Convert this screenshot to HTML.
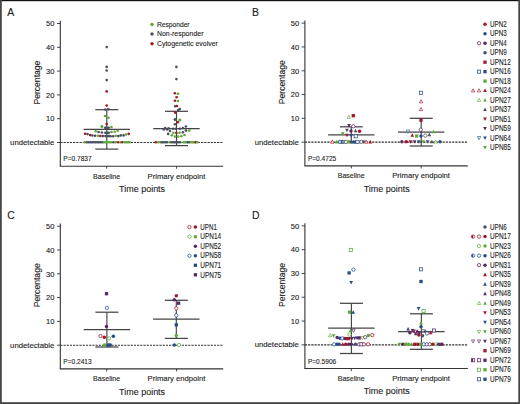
<!DOCTYPE html>
<html><head><meta charset="utf-8"><style>
html,body{margin:0;padding:0;background:#fff;}
body{width:520px;height:404px;overflow:hidden;font-family:"Liberation Sans",sans-serif;}
svg{display:block;}
text{font-family:"Liberation Sans",sans-serif;stroke:#1c1c1c;stroke-width:0.12px;}
</style></head><body>
<svg width="520" height="404" viewBox="0 0 520 404">
<g font-family="Liberation Sans, sans-serif" fill="#1c1c1c">
<text x="7.30" y="16.40" font-size="10.4" text-anchor="start">A</text>
<line x1="60.30" y1="20.80" x2="60.30" y2="166.20" stroke="#333" stroke-width="1.1"/>
<line x1="57.00" y1="23.50" x2="60.30" y2="23.50" stroke="#333" stroke-width="0.9"/>
<text x="54.50" y="26.25" font-size="7.8" text-anchor="end" textLength="8.40" lengthAdjust="spacingAndGlyphs">50</text>
<line x1="57.00" y1="47.30" x2="60.30" y2="47.30" stroke="#333" stroke-width="0.9"/>
<text x="54.50" y="50.05" font-size="7.8" text-anchor="end" textLength="8.40" lengthAdjust="spacingAndGlyphs">40</text>
<line x1="57.00" y1="71.10" x2="60.30" y2="71.10" stroke="#333" stroke-width="0.9"/>
<text x="54.50" y="73.85" font-size="7.8" text-anchor="end" textLength="8.40" lengthAdjust="spacingAndGlyphs">30</text>
<line x1="57.00" y1="94.90" x2="60.30" y2="94.90" stroke="#333" stroke-width="0.9"/>
<text x="54.50" y="97.65" font-size="7.8" text-anchor="end" textLength="8.40" lengthAdjust="spacingAndGlyphs">20</text>
<line x1="57.00" y1="118.70" x2="60.30" y2="118.70" stroke="#333" stroke-width="0.9"/>
<text x="54.50" y="121.45" font-size="7.8" text-anchor="end" textLength="8.40" lengthAdjust="spacingAndGlyphs">10</text>
<line x1="57.00" y1="142.50" x2="60.30" y2="142.50" stroke="#333" stroke-width="0.9"/>
<text x="54.30" y="145.10" font-size="8.0" text-anchor="end" textLength="44.20" lengthAdjust="spacingAndGlyphs">undetectable</text>
<line x1="60.30" y1="142.50" x2="223.50" y2="142.50" stroke="#333" stroke-width="1.15" stroke-dasharray="2.2,1"/>
<line x1="59.80" y1="166.20" x2="223.20" y2="166.20" stroke="#333" stroke-width="1.1"/>
<line x1="106.70" y1="166.20" x2="106.70" y2="168.80" stroke="#333" stroke-width="0.9"/>
<line x1="176.60" y1="166.20" x2="176.60" y2="168.80" stroke="#333" stroke-width="0.9"/>
<text x="106.60" y="178.70" font-size="7.9" text-anchor="middle" textLength="27.00" lengthAdjust="spacingAndGlyphs">Baseline</text>
<text x="176.50" y="178.70" font-size="7.9" text-anchor="middle" textLength="57.80" lengthAdjust="spacingAndGlyphs">Primary endpoint</text>
<text x="142.10" y="192.10" font-size="9.7" text-anchor="middle" textLength="46.00" lengthAdjust="spacingAndGlyphs">Time points</text>
<text x="0" y="0" font-size="9.4" text-anchor="middle" textLength="44" lengthAdjust="spacingAndGlyphs" transform="translate(40.30,82.60) rotate(-90)">Percentage</text>
<text x="63.30" y="161.30" font-size="7.6" text-anchor="start" textLength="28.30" lengthAdjust="spacingAndGlyphs">P=0.7837</text>
<text x="251.90" y="16.05" font-size="10.4" text-anchor="start">B</text>
<line x1="304.90" y1="20.45" x2="304.90" y2="165.85" stroke="#333" stroke-width="1.1"/>
<line x1="301.60" y1="23.15" x2="304.90" y2="23.15" stroke="#333" stroke-width="0.9"/>
<text x="299.10" y="25.90" font-size="7.8" text-anchor="end" textLength="8.40" lengthAdjust="spacingAndGlyphs">50</text>
<line x1="301.60" y1="46.95" x2="304.90" y2="46.95" stroke="#333" stroke-width="0.9"/>
<text x="299.10" y="49.70" font-size="7.8" text-anchor="end" textLength="8.40" lengthAdjust="spacingAndGlyphs">40</text>
<line x1="301.60" y1="70.75" x2="304.90" y2="70.75" stroke="#333" stroke-width="0.9"/>
<text x="299.10" y="73.50" font-size="7.8" text-anchor="end" textLength="8.40" lengthAdjust="spacingAndGlyphs">30</text>
<line x1="301.60" y1="94.55" x2="304.90" y2="94.55" stroke="#333" stroke-width="0.9"/>
<text x="299.10" y="97.30" font-size="7.8" text-anchor="end" textLength="8.40" lengthAdjust="spacingAndGlyphs">20</text>
<line x1="301.60" y1="118.35" x2="304.90" y2="118.35" stroke="#333" stroke-width="0.9"/>
<text x="299.10" y="121.10" font-size="7.8" text-anchor="end" textLength="8.40" lengthAdjust="spacingAndGlyphs">10</text>
<line x1="301.60" y1="142.15" x2="304.90" y2="142.15" stroke="#333" stroke-width="0.9"/>
<text x="298.90" y="144.75" font-size="8.0" text-anchor="end" textLength="44.20" lengthAdjust="spacingAndGlyphs">undetectable</text>
<line x1="304.90" y1="142.15" x2="468.10" y2="142.15" stroke="#333" stroke-width="1.15" stroke-dasharray="2.2,1"/>
<line x1="304.40" y1="165.85" x2="467.80" y2="165.85" stroke="#333" stroke-width="1.1"/>
<line x1="351.30" y1="165.85" x2="351.30" y2="168.45" stroke="#333" stroke-width="0.9"/>
<line x1="421.20" y1="165.85" x2="421.20" y2="168.45" stroke="#333" stroke-width="0.9"/>
<text x="351.20" y="178.35" font-size="7.9" text-anchor="middle" textLength="27.00" lengthAdjust="spacingAndGlyphs">Baseline</text>
<text x="421.10" y="178.35" font-size="7.9" text-anchor="middle" textLength="57.80" lengthAdjust="spacingAndGlyphs">Primary endpoint</text>
<text x="386.70" y="191.75" font-size="9.7" text-anchor="middle" textLength="46.00" lengthAdjust="spacingAndGlyphs">Time points</text>
<text x="0" y="0" font-size="9.4" text-anchor="middle" textLength="44" lengthAdjust="spacingAndGlyphs" transform="translate(284.90,82.25) rotate(-90)">Percentage</text>
<text x="307.90" y="160.95" font-size="7.6" text-anchor="start" textLength="28.30" lengthAdjust="spacingAndGlyphs">P=0.4725</text>
<text x="7.30" y="219.10" font-size="10.4" text-anchor="start">C</text>
<line x1="60.30" y1="223.50" x2="60.30" y2="368.90" stroke="#333" stroke-width="1.1"/>
<line x1="57.00" y1="226.20" x2="60.30" y2="226.20" stroke="#333" stroke-width="0.9"/>
<text x="54.50" y="228.95" font-size="7.8" text-anchor="end" textLength="8.40" lengthAdjust="spacingAndGlyphs">50</text>
<line x1="57.00" y1="250.00" x2="60.30" y2="250.00" stroke="#333" stroke-width="0.9"/>
<text x="54.50" y="252.75" font-size="7.8" text-anchor="end" textLength="8.40" lengthAdjust="spacingAndGlyphs">40</text>
<line x1="57.00" y1="273.80" x2="60.30" y2="273.80" stroke="#333" stroke-width="0.9"/>
<text x="54.50" y="276.55" font-size="7.8" text-anchor="end" textLength="8.40" lengthAdjust="spacingAndGlyphs">30</text>
<line x1="57.00" y1="297.60" x2="60.30" y2="297.60" stroke="#333" stroke-width="0.9"/>
<text x="54.50" y="300.35" font-size="7.8" text-anchor="end" textLength="8.40" lengthAdjust="spacingAndGlyphs">20</text>
<line x1="57.00" y1="321.40" x2="60.30" y2="321.40" stroke="#333" stroke-width="0.9"/>
<text x="54.50" y="324.15" font-size="7.8" text-anchor="end" textLength="8.40" lengthAdjust="spacingAndGlyphs">10</text>
<line x1="57.00" y1="345.20" x2="60.30" y2="345.20" stroke="#333" stroke-width="0.9"/>
<text x="54.30" y="347.80" font-size="8.0" text-anchor="end" textLength="44.20" lengthAdjust="spacingAndGlyphs">undetectable</text>
<line x1="60.30" y1="345.20" x2="223.50" y2="345.20" stroke="#333" stroke-width="1.15" stroke-dasharray="2.2,1"/>
<line x1="59.80" y1="368.90" x2="223.20" y2="368.90" stroke="#333" stroke-width="1.1"/>
<line x1="106.70" y1="368.90" x2="106.70" y2="371.50" stroke="#333" stroke-width="0.9"/>
<line x1="176.60" y1="368.90" x2="176.60" y2="371.50" stroke="#333" stroke-width="0.9"/>
<text x="106.60" y="381.40" font-size="7.9" text-anchor="middle" textLength="27.00" lengthAdjust="spacingAndGlyphs">Baseline</text>
<text x="176.50" y="381.40" font-size="7.9" text-anchor="middle" textLength="57.80" lengthAdjust="spacingAndGlyphs">Primary endpoint</text>
<text x="142.10" y="394.80" font-size="9.7" text-anchor="middle" textLength="46.00" lengthAdjust="spacingAndGlyphs">Time points</text>
<text x="0" y="0" font-size="9.4" text-anchor="middle" textLength="44" lengthAdjust="spacingAndGlyphs" transform="translate(40.30,285.30) rotate(-90)">Percentage</text>
<text x="63.30" y="364.00" font-size="7.6" text-anchor="start" textLength="28.30" lengthAdjust="spacingAndGlyphs">P=0.2413</text>
<text x="251.90" y="218.75" font-size="10.4" text-anchor="start">D</text>
<line x1="304.90" y1="223.15" x2="304.90" y2="368.55" stroke="#333" stroke-width="1.1"/>
<line x1="301.60" y1="225.85" x2="304.90" y2="225.85" stroke="#333" stroke-width="0.9"/>
<text x="299.10" y="228.60" font-size="7.8" text-anchor="end" textLength="8.40" lengthAdjust="spacingAndGlyphs">50</text>
<line x1="301.60" y1="249.65" x2="304.90" y2="249.65" stroke="#333" stroke-width="0.9"/>
<text x="299.10" y="252.40" font-size="7.8" text-anchor="end" textLength="8.40" lengthAdjust="spacingAndGlyphs">40</text>
<line x1="301.60" y1="273.45" x2="304.90" y2="273.45" stroke="#333" stroke-width="0.9"/>
<text x="299.10" y="276.20" font-size="7.8" text-anchor="end" textLength="8.40" lengthAdjust="spacingAndGlyphs">30</text>
<line x1="301.60" y1="297.25" x2="304.90" y2="297.25" stroke="#333" stroke-width="0.9"/>
<text x="299.10" y="300.00" font-size="7.8" text-anchor="end" textLength="8.40" lengthAdjust="spacingAndGlyphs">20</text>
<line x1="301.60" y1="321.05" x2="304.90" y2="321.05" stroke="#333" stroke-width="0.9"/>
<text x="299.10" y="323.80" font-size="7.8" text-anchor="end" textLength="8.40" lengthAdjust="spacingAndGlyphs">10</text>
<line x1="301.60" y1="344.85" x2="304.90" y2="344.85" stroke="#333" stroke-width="0.9"/>
<text x="298.90" y="347.45" font-size="8.0" text-anchor="end" textLength="44.20" lengthAdjust="spacingAndGlyphs">undetectable</text>
<line x1="304.90" y1="344.85" x2="468.10" y2="344.85" stroke="#333" stroke-width="1.15" stroke-dasharray="2.2,1"/>
<line x1="304.40" y1="368.55" x2="467.80" y2="368.55" stroke="#333" stroke-width="1.1"/>
<line x1="351.30" y1="368.55" x2="351.30" y2="371.15" stroke="#333" stroke-width="0.9"/>
<line x1="421.20" y1="368.55" x2="421.20" y2="371.15" stroke="#333" stroke-width="0.9"/>
<text x="351.20" y="381.05" font-size="7.9" text-anchor="middle" textLength="27.00" lengthAdjust="spacingAndGlyphs">Baseline</text>
<text x="421.10" y="381.05" font-size="7.9" text-anchor="middle" textLength="57.80" lengthAdjust="spacingAndGlyphs">Primary endpoint</text>
<text x="386.70" y="394.45" font-size="9.7" text-anchor="middle" textLength="46.00" lengthAdjust="spacingAndGlyphs">Time points</text>
<text x="0" y="0" font-size="9.4" text-anchor="middle" textLength="44" lengthAdjust="spacingAndGlyphs" transform="translate(284.90,284.95) rotate(-90)">Percentage</text>
<text x="307.90" y="363.65" font-size="7.6" text-anchor="start" textLength="28.30" lengthAdjust="spacingAndGlyphs">P=0.5906</text>
</g>
<line x1="106.80" y1="109.70" x2="106.80" y2="149.10" stroke="#444" stroke-width="1.15"/>
<line x1="83.60" y1="129.40" x2="130.00" y2="129.40" stroke="#444" stroke-width="1.25"/>
<line x1="95.30" y1="109.70" x2="118.30" y2="109.70" stroke="#444" stroke-width="1.25"/>
<line x1="95.30" y1="149.10" x2="118.30" y2="149.10" stroke="#444" stroke-width="1.25"/>
<line x1="176.50" y1="111.30" x2="176.50" y2="145.60" stroke="#444" stroke-width="1.15"/>
<line x1="153.30" y1="128.70" x2="199.70" y2="128.70" stroke="#444" stroke-width="1.25"/>
<line x1="165.00" y1="111.30" x2="188.00" y2="111.30" stroke="#444" stroke-width="1.25"/>
<line x1="165.00" y1="145.60" x2="188.00" y2="145.60" stroke="#444" stroke-width="1.25"/>
<circle cx="106.70" cy="47.10" r="1.32" fill="#4a5062"/>
<circle cx="106.70" cy="66.90" r="1.32" fill="#4a5062"/>
<circle cx="106.70" cy="70.50" r="1.32" fill="#4a5062"/>
<circle cx="106.70" cy="80.10" r="1.32" fill="#4a5062"/>
<circle cx="106.70" cy="91.40" r="1.32" fill="#a3152b"/>
<circle cx="106.70" cy="105.60" r="1.32" fill="#a3152b"/>
<circle cx="105.20" cy="109.50" r="1.32" fill="#4a5062"/>
<circle cx="108.30" cy="109.10" r="1.32" fill="#4a5062"/>
<circle cx="105.00" cy="116.00" r="1.32" fill="#5fa83a"/>
<circle cx="108.50" cy="117.70" r="1.32" fill="#5fa83a"/>
<circle cx="106.70" cy="124.10" r="1.32" fill="#a3152b"/>
<circle cx="102.00" cy="126.40" r="1.32" fill="#5fa83a"/>
<circle cx="111.50" cy="127.10" r="1.32" fill="#5fa83a"/>
<circle cx="105.20" cy="127.80" r="1.32" fill="#4a5062"/>
<circle cx="107.00" cy="127.80" r="1.32" fill="#4a5062"/>
<circle cx="108.70" cy="127.80" r="1.32" fill="#4a5062"/>
<circle cx="101.90" cy="126.70" r="1.32" fill="#5fa83a"/>
<circle cx="95.70" cy="131.30" r="1.32" fill="#5fa83a"/>
<circle cx="98.60" cy="132.00" r="1.32" fill="#4a5062"/>
<circle cx="101.90" cy="132.50" r="1.32" fill="#4a5062"/>
<circle cx="105.40" cy="132.80" r="1.32" fill="#4a5062"/>
<circle cx="107.10" cy="132.80" r="1.32" fill="#4a5062"/>
<circle cx="108.80" cy="132.80" r="1.32" fill="#4a5062"/>
<circle cx="111.50" cy="132.00" r="1.32" fill="#5fa83a"/>
<circle cx="114.70" cy="131.80" r="1.32" fill="#5fa83a"/>
<circle cx="117.80" cy="130.80" r="1.32" fill="#5fa83a"/>
<circle cx="85.10" cy="133.70" r="1.32" fill="#a3152b"/>
<circle cx="87.50" cy="134.10" r="1.32" fill="#4a5062"/>
<circle cx="90.10" cy="135.10" r="1.32" fill="#a3152b"/>
<circle cx="92.40" cy="135.50" r="1.32" fill="#4a5062"/>
<circle cx="95.10" cy="135.80" r="1.32" fill="#4a5062"/>
<circle cx="97.90" cy="135.80" r="1.32" fill="#5fa83a"/>
<circle cx="100.30" cy="136.00" r="1.32" fill="#a3152b"/>
<circle cx="102.80" cy="136.10" r="1.32" fill="#4a5062"/>
<circle cx="105.40" cy="136.10" r="1.32" fill="#4a5062"/>
<circle cx="107.10" cy="136.10" r="1.32" fill="#4a5062"/>
<circle cx="108.80" cy="136.10" r="1.32" fill="#4a5062"/>
<circle cx="110.60" cy="136.30" r="1.32" fill="#4a5062"/>
<circle cx="113.20" cy="136.30" r="1.32" fill="#4a5062"/>
<circle cx="115.80" cy="135.80" r="1.32" fill="#5fa83a"/>
<circle cx="118.30" cy="136.10" r="1.32" fill="#4a5062"/>
<circle cx="120.70" cy="135.40" r="1.32" fill="#4a5062"/>
<circle cx="123.60" cy="135.40" r="1.32" fill="#4a5062"/>
<circle cx="125.90" cy="134.50" r="1.32" fill="#5fa83a"/>
<circle cx="128.70" cy="133.90" r="1.32" fill="#a3152b"/>
<circle cx="84.60" cy="142.20" r="1.32" fill="#5fa83a"/>
<circle cx="86.80" cy="142.20" r="1.32" fill="#4a5062"/>
<circle cx="88.55" cy="142.20" r="1.32" fill="#4a5062"/>
<circle cx="90.30" cy="142.20" r="1.32" fill="#4a5062"/>
<circle cx="92.05" cy="142.20" r="1.32" fill="#4a5062"/>
<circle cx="93.80" cy="142.20" r="1.32" fill="#4a5062"/>
<circle cx="95.55" cy="142.20" r="1.32" fill="#4a5062"/>
<circle cx="97.30" cy="142.20" r="1.32" fill="#4a5062"/>
<circle cx="99.05" cy="142.20" r="1.32" fill="#4a5062"/>
<circle cx="100.80" cy="142.20" r="1.32" fill="#4a5062"/>
<circle cx="102.55" cy="142.20" r="1.32" fill="#4a5062"/>
<circle cx="104.20" cy="142.20" r="1.32" fill="#5fa83a"/>
<circle cx="105.95" cy="142.20" r="1.32" fill="#5fa83a"/>
<circle cx="107.70" cy="142.20" r="1.32" fill="#5fa83a"/>
<circle cx="109.45" cy="142.20" r="1.32" fill="#5fa83a"/>
<circle cx="111.20" cy="142.20" r="1.32" fill="#5fa83a"/>
<circle cx="113.50" cy="142.20" r="1.32" fill="#4a5062"/>
<circle cx="115.80" cy="142.20" r="1.32" fill="#5fa83a"/>
<circle cx="118.10" cy="142.20" r="1.32" fill="#a3152b"/>
<circle cx="120.40" cy="142.20" r="1.32" fill="#5fa83a"/>
<circle cx="122.30" cy="142.20" r="1.32" fill="#a3152b"/>
<circle cx="124.80" cy="142.20" r="1.32" fill="#5fa83a"/>
<circle cx="126.40" cy="142.20" r="1.32" fill="#5fa83a"/>
<circle cx="128.00" cy="142.20" r="1.32" fill="#5fa83a"/>
<circle cx="129.60" cy="142.20" r="1.32" fill="#5fa83a"/>
<circle cx="176.40" cy="66.90" r="1.32" fill="#4a5062"/>
<circle cx="176.40" cy="79.10" r="1.32" fill="#4a5062"/>
<circle cx="174.90" cy="93.20" r="1.32" fill="#a3152b"/>
<circle cx="178.00" cy="93.70" r="1.32" fill="#5fa83a"/>
<circle cx="176.60" cy="97.30" r="1.32" fill="#a3152b"/>
<circle cx="174.90" cy="100.80" r="1.32" fill="#a3152b"/>
<circle cx="178.00" cy="101.00" r="1.32" fill="#5fa83a"/>
<circle cx="175.20" cy="106.20" r="1.32" fill="#4a5062"/>
<circle cx="176.90" cy="106.00" r="1.32" fill="#a3152b"/>
<circle cx="178.20" cy="110.10" r="1.32" fill="#4a5062"/>
<circle cx="179.80" cy="109.10" r="1.32" fill="#4a5062"/>
<circle cx="175.20" cy="112.60" r="1.32" fill="#a3152b"/>
<circle cx="175.20" cy="119.50" r="1.32" fill="#4a5062"/>
<circle cx="179.80" cy="119.70" r="1.32" fill="#5fa83a"/>
<circle cx="177.90" cy="122.30" r="1.32" fill="#a3152b"/>
<circle cx="174.90" cy="124.30" r="1.32" fill="#4a5062"/>
<circle cx="174.90" cy="119.60" r="1.32" fill="#4a5062"/>
<circle cx="179.80" cy="120.30" r="1.32" fill="#5fa83a"/>
<circle cx="163.70" cy="129.50" r="1.32" fill="#4a5062"/>
<circle cx="165.20" cy="128.00" r="1.32" fill="#4a5062"/>
<circle cx="167.10" cy="129.50" r="1.32" fill="#4a5062"/>
<circle cx="168.60" cy="128.40" r="1.32" fill="#4a5062"/>
<circle cx="170.00" cy="131.00" r="1.32" fill="#4a5062"/>
<circle cx="173.00" cy="128.70" r="1.32" fill="#4a5062"/>
<circle cx="175.60" cy="128.70" r="1.32" fill="#4a5062"/>
<circle cx="179.80" cy="128.70" r="1.32" fill="#4a5062"/>
<circle cx="182.90" cy="128.00" r="1.32" fill="#4a5062"/>
<circle cx="185.90" cy="126.50" r="1.32" fill="#4a5062"/>
<circle cx="185.90" cy="130.60" r="1.32" fill="#4a5062"/>
<circle cx="189.20" cy="130.40" r="1.32" fill="#5fa83a"/>
<circle cx="168.20" cy="133.90" r="1.32" fill="#4a5062"/>
<circle cx="173.40" cy="132.70" r="1.32" fill="#5fa83a"/>
<circle cx="176.40" cy="133.00" r="1.32" fill="#a3152b"/>
<circle cx="179.60" cy="132.80" r="1.32" fill="#5fa83a"/>
<circle cx="182.90" cy="132.20" r="1.32" fill="#4a5062"/>
<circle cx="171.90" cy="135.20" r="1.32" fill="#5fa83a"/>
<circle cx="174.90" cy="136.50" r="1.32" fill="#5fa83a"/>
<circle cx="178.10" cy="136.50" r="1.32" fill="#5fa83a"/>
<circle cx="181.30" cy="136.20" r="1.32" fill="#5fa83a"/>
<circle cx="184.50" cy="135.00" r="1.32" fill="#5fa83a"/>
<circle cx="155.80" cy="142.20" r="1.32" fill="#a3152b"/>
<circle cx="158.20" cy="142.20" r="1.32" fill="#5fa83a"/>
<circle cx="160.40" cy="142.20" r="1.32" fill="#5fa83a"/>
<circle cx="161.90" cy="142.20" r="1.32" fill="#4a5062"/>
<circle cx="163.65" cy="142.20" r="1.32" fill="#4a5062"/>
<circle cx="165.40" cy="142.20" r="1.32" fill="#4a5062"/>
<circle cx="167.15" cy="142.20" r="1.32" fill="#4a5062"/>
<circle cx="169.70" cy="142.20" r="1.32" fill="#5fa83a"/>
<circle cx="171.50" cy="142.20" r="1.32" fill="#4a5062"/>
<circle cx="173.25" cy="142.20" r="1.32" fill="#4a5062"/>
<circle cx="175.00" cy="142.20" r="1.32" fill="#4a5062"/>
<circle cx="176.75" cy="142.20" r="1.32" fill="#4a5062"/>
<circle cx="178.50" cy="142.20" r="1.32" fill="#4a5062"/>
<circle cx="180.25" cy="142.20" r="1.32" fill="#4a5062"/>
<circle cx="183.70" cy="142.20" r="1.32" fill="#5fa83a"/>
<circle cx="185.20" cy="142.20" r="1.32" fill="#5fa83a"/>
<circle cx="186.60" cy="142.20" r="1.32" fill="#5fa83a"/>
<circle cx="187.90" cy="142.20" r="1.32" fill="#4a5062"/>
<circle cx="189.60" cy="142.20" r="1.32" fill="#4a5062"/>
<circle cx="191.40" cy="142.20" r="1.32" fill="#5fa83a"/>
<circle cx="193.00" cy="142.20" r="1.32" fill="#5fa83a"/>
<circle cx="194.30" cy="142.20" r="1.32" fill="#5fa83a"/>
<circle cx="195.70" cy="142.20" r="1.32" fill="#a3152b"/>
<circle cx="197.60" cy="142.20" r="1.32" fill="#5fa83a"/>
<circle cx="152.00" cy="24.40" r="1.75" fill="#5fa83a"/>
<circle cx="152.00" cy="34.10" r="1.75" fill="#4a5062"/>
<circle cx="152.00" cy="43.80" r="1.75" fill="#a3152b"/>
<g font-family="Liberation Sans, sans-serif" fill="#1c1c1c">
<text x="156.90" y="26.70" font-size="8.0" text-anchor="start" textLength="32.70" lengthAdjust="spacingAndGlyphs">Responder</text>
<text x="156.90" y="36.40" font-size="8.0" text-anchor="start" textLength="46.60" lengthAdjust="spacingAndGlyphs">Non-responder</text>
<text x="156.90" y="46.10" font-size="8.0" text-anchor="start" textLength="61.00" lengthAdjust="spacingAndGlyphs">Cytogenetic evolver</text>
</g>
<line x1="351.30" y1="126.80" x2="351.30" y2="142.00" stroke="#444" stroke-width="1.15"/>
<line x1="328.10" y1="134.80" x2="374.50" y2="134.80" stroke="#444" stroke-width="1.25"/>
<line x1="339.80" y1="126.80" x2="362.80" y2="126.80" stroke="#444" stroke-width="1.25"/>
<line x1="339.80" y1="142.00" x2="362.80" y2="142.00" stroke="#444" stroke-width="1.25"/>
<line x1="421.20" y1="118.30" x2="421.20" y2="146.00" stroke="#444" stroke-width="1.15"/>
<line x1="398.00" y1="132.10" x2="444.40" y2="132.10" stroke="#444" stroke-width="1.25"/>
<line x1="409.70" y1="118.30" x2="432.70" y2="118.30" stroke="#444" stroke-width="1.25"/>
<line x1="409.70" y1="146.00" x2="432.70" y2="146.00" stroke="#444" stroke-width="1.25"/>
<polygon points="348.80,115.26 347.13,118.44 350.47,118.44" fill="#fff" stroke="#5fa83a" stroke-width="0.66" stroke-linejoin="round"/>
<rect x="351.65" y="114.05" width="3.30" height="3.30" fill="#a3152b"/>
<polygon points="349.00,127.63 347.15,124.12 350.85,124.12" fill="#5b2a5e"/>
<circle cx="353.30" cy="126.30" r="1.67" fill="#fff" stroke="#5b2a5e" stroke-width="0.75"/>
<polygon points="347.00,132.34 345.15,128.82 348.85,128.82" fill="#4a5062"/>
<circle cx="351.00" cy="131.00" r="1.75" fill="#5b2a5e"/>
<polygon points="355.50,128.77 353.65,132.28 357.35,132.28" fill="#4a5062"/>
<circle cx="359.50" cy="131.30" r="1.75" fill="#a3152b"/>
<polygon points="342.70,135.73 340.85,132.22 344.55,132.22" fill="#5fa83a"/>
<polygon points="347.00,137.23 345.15,133.72 348.85,133.72" fill="#a3152b"/>
<polygon points="351.10,137.63 349.25,134.12 352.95,134.12" fill="#2a4b85"/>
<rect x="354.12" y="134.73" width="3.15" height="3.15" fill="#fff" stroke="#2a4b85" stroke-width="0.75"/>
<polygon points="332.30,140.06 330.63,143.24 333.97,143.24" fill="#fff" stroke="#a3152b" stroke-width="0.66" stroke-linejoin="round"/>
<polygon points="336.70,139.87 334.85,143.38 338.55,143.38" fill="#5fa83a"/>
<rect x="338.82" y="140.33" width="3.15" height="3.15" fill="#fff" stroke="#2a4b85" stroke-width="0.75"/>
<circle cx="342.60" cy="141.90" r="1.67" fill="#fff" stroke="#2a4b85" stroke-width="0.75"/>
<path d="M342.60,140.22 A1.67,1.67 0 0 0 342.60,143.58Z" fill="#2a4b85"/>
<polygon points="344.70,140.06 343.03,143.24 346.37,143.24" fill="#fff" stroke="#4a5062" stroke-width="0.66" stroke-linejoin="round"/>
<circle cx="346.00" cy="141.90" r="1.67" fill="#fff" stroke="#4a5062" stroke-width="0.75"/>
<rect x="347.15" y="140.25" width="3.30" height="3.30" fill="#5fa83a"/>
<circle cx="351.40" cy="141.90" r="1.75" fill="#4a5062"/>
<polygon points="353.50,139.87 351.65,143.38 355.35,143.38" fill="#2a4b85"/>
<circle cx="355.30" cy="141.90" r="1.75" fill="#2a4b85"/>
<rect x="355.93" y="140.33" width="3.15" height="3.15" fill="#fff" stroke="#2a4b85" stroke-width="0.75"/>
<circle cx="361.30" cy="141.90" r="1.67" fill="#fff" stroke="#4a5062" stroke-width="0.75"/>
<polygon points="363.60,143.94 361.75,140.42 365.45,140.42" fill="#4a5062"/>
<polygon points="366.20,140.06 364.53,143.24 367.87,143.24" fill="#fff" stroke="#a3152b" stroke-width="0.66" stroke-linejoin="round"/>
<polygon points="370.20,139.87 368.35,143.38 372.05,143.38" fill="#a3152b"/>
<rect x="419.43" y="91.22" width="3.15" height="3.15" fill="#fff" stroke="#2a4b85" stroke-width="0.75"/>
<polygon points="421.00,99.66 419.33,102.84 422.67,102.84" fill="#fff" stroke="#a3152b" stroke-width="0.66" stroke-linejoin="round"/>
<polygon points="421.00,107.46 419.33,110.64 422.67,110.64" fill="#fff" stroke="#a3152b" stroke-width="0.66" stroke-linejoin="round"/>
<rect x="419.35" y="118.55" width="3.30" height="3.30" fill="#a3152b"/>
<circle cx="420.80" cy="129.70" r="1.67" fill="#fff" stroke="#5b2a5e" stroke-width="0.75"/>
<polygon points="408.00,133.24 406.33,130.06 409.67,130.06" fill="#fff" stroke="#2a4b85" stroke-width="0.66" stroke-linejoin="round"/>
<polygon points="433.50,129.77 431.65,133.28 435.35,133.28" fill="#5fa83a"/>
<polygon points="412.30,133.27 410.45,136.78 414.15,136.78" fill="#a3152b"/>
<rect x="415.05" y="134.35" width="3.30" height="3.30" fill="#5fa83a"/>
<circle cx="421.00" cy="136.00" r="1.75" fill="#2a4b85"/>
<circle cx="425.30" cy="135.60" r="1.67" fill="#fff" stroke="#4a5062" stroke-width="0.75"/>
<polygon points="429.30,132.66 427.45,136.18 431.15,136.18" fill="#4a5062"/>
<circle cx="401.90" cy="141.80" r="1.75" fill="#5b2a5e"/>
<circle cx="406.30" cy="141.80" r="1.75" fill="#a3152b"/>
<polygon points="410.60,143.84 408.75,140.32 412.45,140.32" fill="#a3152b"/>
<polygon points="414.60,143.84 412.75,140.32 416.45,140.32" fill="#5b2a5e"/>
<polygon points="418.90,143.84 417.05,140.32 420.75,140.32" fill="#2a4b85"/>
<polygon points="423.20,143.84 421.35,140.32 425.05,140.32" fill="#5fa83a"/>
<polygon points="427.60,143.84 425.75,140.32 429.45,140.32" fill="#4a5062"/>
<polygon points="431.90,139.77 430.05,143.28 433.75,143.28" fill="#4a5062"/>
<polygon points="435.70,139.96 434.03,143.14 437.37,143.14" fill="#fff" stroke="#5fa83a" stroke-width="0.66" stroke-linejoin="round"/>
<circle cx="440.00" cy="141.80" r="1.75" fill="#2a4b85"/>
<circle cx="485.00" cy="24.30" r="1.75" fill="#a3152b"/>
<text x="490.00" y="27.00" font-family="Liberation Sans, sans-serif" fill="#1c1c1c" font-size="8.2" textLength="16.60" lengthAdjust="spacingAndGlyphs">UPN2</text>
<circle cx="485.00" cy="33.77" r="1.75" fill="#2a4b85"/>
<text x="490.00" y="36.47" font-family="Liberation Sans, sans-serif" fill="#1c1c1c" font-size="8.2" textLength="16.60" lengthAdjust="spacingAndGlyphs">UPN3</text>
<circle cx="479.05" cy="43.24" r="1.67" fill="#fff" stroke="#5b2a5e" stroke-width="0.75"/>
<circle cx="485.00" cy="43.24" r="1.75" fill="#5b2a5e"/>
<text x="490.00" y="45.94" font-family="Liberation Sans, sans-serif" fill="#1c1c1c" font-size="8.2" textLength="16.60" lengthAdjust="spacingAndGlyphs">UPN4</text>
<circle cx="485.00" cy="52.71" r="1.75" fill="#4a5062"/>
<text x="490.00" y="55.41" font-family="Liberation Sans, sans-serif" fill="#1c1c1c" font-size="8.2" textLength="16.60" lengthAdjust="spacingAndGlyphs">UPN9</text>
<rect x="483.35" y="60.53" width="3.30" height="3.30" fill="#a3152b"/>
<text x="490.00" y="64.88" font-family="Liberation Sans, sans-serif" fill="#1c1c1c" font-size="8.2" textLength="20.75" lengthAdjust="spacingAndGlyphs">UPN12</text>
<rect x="477.48" y="70.08" width="3.15" height="3.15" fill="#fff" stroke="#2a4b85" stroke-width="0.75"/>
<rect x="483.35" y="70.00" width="3.30" height="3.30" fill="#2a4b85"/>
<text x="490.00" y="74.35" font-family="Liberation Sans, sans-serif" fill="#1c1c1c" font-size="8.2" textLength="20.75" lengthAdjust="spacingAndGlyphs">UPN16</text>
<rect x="483.35" y="79.47" width="3.30" height="3.30" fill="#5fa83a"/>
<text x="490.00" y="83.82" font-family="Liberation Sans, sans-serif" fill="#1c1c1c" font-size="8.2" textLength="20.75" lengthAdjust="spacingAndGlyphs">UPN18</text>
<polygon points="473.10,88.75 471.43,91.93 474.77,91.93" fill="#fff" stroke="#a3152b" stroke-width="0.66" stroke-linejoin="round"/>
<polygon points="479.05,88.75 477.38,91.93 480.72,91.93" fill="#fff" stroke="#a3152b" stroke-width="0.66" stroke-linejoin="round"/>
<polygon points="485.00,88.56 483.15,92.07 486.85,92.07" fill="#a3152b"/>
<text x="490.00" y="93.29" font-family="Liberation Sans, sans-serif" fill="#1c1c1c" font-size="8.2" textLength="20.75" lengthAdjust="spacingAndGlyphs">UPN24</text>
<polygon points="479.05,98.22 477.38,101.40 480.72,101.40" fill="#fff" stroke="#5fa83a" stroke-width="0.66" stroke-linejoin="round"/>
<polygon points="485.00,98.03 483.15,101.54 486.85,101.54" fill="#5fa83a"/>
<text x="490.00" y="102.76" font-family="Liberation Sans, sans-serif" fill="#1c1c1c" font-size="8.2" textLength="20.75" lengthAdjust="spacingAndGlyphs">UPN27</text>
<polygon points="485.00,107.50 483.15,111.01 486.85,111.01" fill="#4a5062"/>
<text x="490.00" y="112.23" font-family="Liberation Sans, sans-serif" fill="#1c1c1c" font-size="8.2" textLength="20.75" lengthAdjust="spacingAndGlyphs">UPN37</text>
<polygon points="485.00,121.03 483.15,117.52 486.85,117.52" fill="#a3152b"/>
<text x="490.00" y="121.70" font-family="Liberation Sans, sans-serif" fill="#1c1c1c" font-size="8.2" textLength="20.75" lengthAdjust="spacingAndGlyphs">UPN51</text>
<polygon points="485.00,130.50 483.15,126.99 486.85,126.99" fill="#5b2a5e"/>
<text x="490.00" y="131.17" font-family="Liberation Sans, sans-serif" fill="#1c1c1c" font-size="8.2" textLength="20.75" lengthAdjust="spacingAndGlyphs">UPN59</text>
<polygon points="479.05,139.78 477.38,136.60 480.72,136.60" fill="#fff" stroke="#2a4b85" stroke-width="0.66" stroke-linejoin="round"/>
<polygon points="485.00,139.98 483.15,136.46 486.85,136.46" fill="#2a4b85"/>
<text x="490.00" y="140.64" font-family="Liberation Sans, sans-serif" fill="#1c1c1c" font-size="8.2" textLength="20.75" lengthAdjust="spacingAndGlyphs">UPN64</text>
<polygon points="485.00,149.45 483.15,145.93 486.85,145.93" fill="#5fa83a"/>
<text x="490.00" y="150.11" font-family="Liberation Sans, sans-serif" fill="#1c1c1c" font-size="8.2" textLength="20.75" lengthAdjust="spacingAndGlyphs">UPN85</text>
<line x1="106.90" y1="312.20" x2="106.90" y2="347.00" stroke="#444" stroke-width="1.15"/>
<line x1="83.70" y1="329.70" x2="130.10" y2="329.70" stroke="#444" stroke-width="1.25"/>
<line x1="95.40" y1="312.20" x2="118.40" y2="312.20" stroke="#444" stroke-width="1.25"/>
<line x1="95.40" y1="347.00" x2="118.40" y2="347.00" stroke="#444" stroke-width="1.25"/>
<line x1="176.30" y1="300.30" x2="176.30" y2="338.40" stroke="#444" stroke-width="1.15"/>
<line x1="153.10" y1="319.10" x2="199.50" y2="319.10" stroke="#444" stroke-width="1.25"/>
<line x1="164.80" y1="300.30" x2="187.80" y2="300.30" stroke="#444" stroke-width="1.25"/>
<line x1="164.80" y1="338.40" x2="187.80" y2="338.40" stroke="#444" stroke-width="1.25"/>
<rect x="104.85" y="292.05" width="3.30" height="3.30" fill="#5b2a5e"/>
<circle cx="106.90" cy="307.90" r="1.67" fill="#fff" stroke="#2a4b85" stroke-width="0.75"/>
<circle cx="106.50" cy="326.60" r="1.75" fill="#5b2a5e"/>
<circle cx="100.50" cy="336.00" r="1.67" fill="#fff" stroke="#a3152b" stroke-width="0.75"/>
<circle cx="104.30" cy="337.30" r="1.75" fill="#a3152b"/>
<circle cx="109.10" cy="338.40" r="1.67" fill="#fff" stroke="#5fa83a" stroke-width="0.75"/>
<circle cx="113.30" cy="336.30" r="1.75" fill="#2a4b85"/>
<circle cx="104.60" cy="345.00" r="1.75" fill="#5fa83a"/>
<rect x="106.95" y="343.35" width="3.30" height="3.30" fill="#2a4b85"/>
<circle cx="110.30" cy="345.00" r="1.75" fill="#2a4b85"/>
<circle cx="176.30" cy="295.70" r="1.75" fill="#a3152b"/>
<circle cx="174.30" cy="299.70" r="1.75" fill="#5b2a5e"/>
<rect x="176.95" y="301.55" width="3.30" height="3.30" fill="#5b2a5e"/>
<circle cx="176.30" cy="308.40" r="1.67" fill="#fff" stroke="#a3152b" stroke-width="0.75"/>
<circle cx="176.30" cy="315.30" r="1.67" fill="#fff" stroke="#2a4b85" stroke-width="0.75"/>
<rect x="174.65" y="323.25" width="3.30" height="3.30" fill="#2a4b85"/>
<circle cx="176.30" cy="335.60" r="1.75" fill="#5fa83a"/>
<circle cx="174.30" cy="345.00" r="1.75" fill="#2a4b85"/>
<circle cx="178.90" cy="345.00" r="1.67" fill="#fff" stroke="#5fa83a" stroke-width="0.75"/>
<circle cx="189.45" cy="227.10" r="1.67" fill="#fff" stroke="#a3152b" stroke-width="0.75"/>
<circle cx="195.40" cy="227.10" r="1.75" fill="#a3152b"/>
<text x="200.30" y="229.80" font-family="Liberation Sans, sans-serif" fill="#1c1c1c" font-size="8.2" textLength="16.60" lengthAdjust="spacingAndGlyphs">UPN1</text>
<circle cx="189.45" cy="236.64" r="1.67" fill="#fff" stroke="#5fa83a" stroke-width="0.75"/>
<circle cx="195.40" cy="236.64" r="1.75" fill="#5fa83a"/>
<text x="200.30" y="239.34" font-family="Liberation Sans, sans-serif" fill="#1c1c1c" font-size="8.2" textLength="20.75" lengthAdjust="spacingAndGlyphs">UPN14</text>
<circle cx="195.40" cy="246.18" r="1.75" fill="#5b2a5e"/>
<text x="200.30" y="248.88" font-family="Liberation Sans, sans-serif" fill="#1c1c1c" font-size="8.2" textLength="20.75" lengthAdjust="spacingAndGlyphs">UPN52</text>
<circle cx="189.45" cy="255.72" r="1.67" fill="#fff" stroke="#2a4b85" stroke-width="0.75"/>
<circle cx="195.40" cy="255.72" r="1.75" fill="#2a4b85"/>
<text x="200.30" y="258.42" font-family="Liberation Sans, sans-serif" fill="#1c1c1c" font-size="8.2" textLength="20.75" lengthAdjust="spacingAndGlyphs">UPN58</text>
<rect x="193.75" y="263.61" width="3.30" height="3.30" fill="#2a4b85"/>
<text x="200.30" y="267.96" font-family="Liberation Sans, sans-serif" fill="#1c1c1c" font-size="8.2" textLength="20.75" lengthAdjust="spacingAndGlyphs">UPN71</text>
<rect x="193.75" y="273.15" width="3.30" height="3.30" fill="#5b2a5e"/>
<text x="200.30" y="277.50" font-family="Liberation Sans, sans-serif" fill="#1c1c1c" font-size="8.2" textLength="20.75" lengthAdjust="spacingAndGlyphs">UPN75</text>
<line x1="351.40" y1="303.30" x2="351.40" y2="353.50" stroke="#444" stroke-width="1.15"/>
<line x1="328.20" y1="328.20" x2="374.60" y2="328.20" stroke="#444" stroke-width="1.25"/>
<line x1="339.90" y1="303.30" x2="362.90" y2="303.30" stroke="#444" stroke-width="1.25"/>
<line x1="339.90" y1="353.50" x2="362.90" y2="353.50" stroke="#444" stroke-width="1.25"/>
<line x1="421.40" y1="313.80" x2="421.40" y2="349.30" stroke="#444" stroke-width="1.15"/>
<line x1="398.20" y1="331.50" x2="444.60" y2="331.50" stroke="#444" stroke-width="1.25"/>
<line x1="409.90" y1="313.80" x2="432.90" y2="313.80" stroke="#444" stroke-width="1.25"/>
<line x1="409.90" y1="349.30" x2="432.90" y2="349.30" stroke="#444" stroke-width="1.25"/>
<rect x="349.23" y="248.33" width="3.15" height="3.15" fill="#fff" stroke="#5fa83a" stroke-width="0.75"/>
<circle cx="353.40" cy="269.60" r="1.67" fill="#fff" stroke="#2a4b85" stroke-width="0.75"/>
<rect x="347.45" y="271.25" width="3.30" height="3.30" fill="#2a4b85"/>
<polygon points="351.20,284.54 349.35,281.02 353.05,281.02" fill="#2a4b85"/>
<rect x="347.85" y="310.55" width="3.30" height="3.30" fill="#5fa83a"/>
<polygon points="353.20,310.16 351.35,313.68 355.05,313.68" fill="#2a4b85"/>
<polygon points="350.60,328.46 348.75,331.98 352.45,331.98" fill="#5fa83a"/>
<polygon points="353.50,332.34 351.83,329.16 355.17,329.16" fill="#fff" stroke="#5b2a5e" stroke-width="0.66" stroke-linejoin="round"/>
<circle cx="349.50" cy="334.50" r="1.67" fill="#fff" stroke="#5fa83a" stroke-width="0.75"/>
<polygon points="330.20,333.56 328.53,336.74 331.87,336.74" fill="#fff" stroke="#5fa83a" stroke-width="0.66" stroke-linejoin="round"/>
<polygon points="333.60,337.74 331.75,334.22 335.45,334.22" fill="#5fa83a"/>
<circle cx="337.20" cy="337.40" r="1.75" fill="#5b2a5e"/>
<circle cx="339.90" cy="338.30" r="1.75" fill="#2a4b85"/>
<circle cx="342.50" cy="338.30" r="1.67" fill="#fff" stroke="#2a4b85" stroke-width="0.75"/>
<circle cx="345.00" cy="338.60" r="1.75" fill="#5b2a5e"/>
<rect x="345.65" y="336.95" width="3.30" height="3.30" fill="#a3152b"/>
<polygon points="349.60,340.64 347.75,337.12 351.45,337.12" fill="#a3152b"/>
<polygon points="352.00,340.44 350.15,336.92 353.85,336.92" fill="#5b2a5e"/>
<polygon points="354.70,340.34 352.85,336.82 356.55,336.82" fill="#2a4b85"/>
<polygon points="357.00,339.94 355.15,336.42 358.85,336.42" fill="#5b2a5e"/>
<rect x="357.55" y="336.25" width="3.30" height="3.30" fill="#5b2a5e"/>
<polygon points="362.40,339.74 360.73,336.56 364.07,336.56" fill="#fff" stroke="#5fa83a" stroke-width="0.66" stroke-linejoin="round"/>
<circle cx="365.20" cy="337.20" r="1.67" fill="#fff" stroke="#5b2a5e" stroke-width="0.75"/>
<circle cx="368.40" cy="335.40" r="1.75" fill="#5fa83a"/>
<circle cx="372.30" cy="335.10" r="1.67" fill="#fff" stroke="#a3152b" stroke-width="0.75"/>
<circle cx="334.20" cy="344.30" r="1.67" fill="#fff" stroke="#2a4b85" stroke-width="0.75"/>
<circle cx="336.90" cy="344.30" r="1.75" fill="#2a4b85"/>
<circle cx="339.10" cy="344.30" r="1.75" fill="#2a4b85"/>
<polygon points="342.80,342.26 340.95,345.78 344.65,345.78" fill="#a3152b"/>
<circle cx="345.80" cy="344.30" r="1.75" fill="#a3152b"/>
<circle cx="348.80" cy="344.30" r="1.75" fill="#5b2a5e"/>
<circle cx="351.40" cy="344.30" r="1.75" fill="#5b2a5e"/>
<circle cx="355.50" cy="344.30" r="1.75" fill="#4a5062"/>
<circle cx="359.20" cy="344.30" r="1.67" fill="#fff" stroke="#5b2a5e" stroke-width="0.75"/>
<rect x="359.82" y="342.73" width="3.15" height="3.15" fill="#fff" stroke="#5b2a5e" stroke-width="0.75"/>
<circle cx="363.90" cy="344.30" r="1.67" fill="#fff" stroke="#5b2a5e" stroke-width="0.75"/>
<circle cx="368.10" cy="344.30" r="1.67" fill="#fff" stroke="#a3152b" stroke-width="0.75"/>
<rect x="419.43" y="267.73" width="3.15" height="3.15" fill="#fff" stroke="#2a4b85" stroke-width="0.75"/>
<rect x="419.35" y="279.85" width="3.30" height="3.30" fill="#2a4b85"/>
<polygon points="418.60,310.64 416.75,307.12 420.45,307.12" fill="#2a4b85"/>
<rect x="421.93" y="309.53" width="3.15" height="3.15" fill="#fff" stroke="#5fa83a" stroke-width="0.75"/>
<polygon points="421.00,320.96 419.15,324.48 422.85,324.48" fill="#5fa83a"/>
<circle cx="421.00" cy="326.70" r="1.75" fill="#2a4b85"/>
<polygon points="408.10,326.96 406.25,330.48 409.95,330.48" fill="#2a4b85"/>
<circle cx="409.90" cy="332.70" r="1.75" fill="#5b2a5e"/>
<polygon points="412.50,332.54 410.65,329.02 414.35,329.02" fill="#a3152b"/>
<circle cx="415.00" cy="331.50" r="1.67" fill="#fff" stroke="#5b2a5e" stroke-width="0.75"/>
<path d="M415.00,329.82 A1.67,1.67 0 0 0 415.00,333.18Z" fill="#5b2a5e"/>
<polygon points="417.20,329.16 415.35,332.68 419.05,332.68" fill="#5b2a5e"/>
<circle cx="419.00" cy="333.00" r="1.75" fill="#5b2a5e"/>
<polygon points="423.00,332.84 421.33,329.66 424.67,329.66" fill="#fff" stroke="#5b2a5e" stroke-width="0.66" stroke-linejoin="round"/>
<polygon points="425.50,329.16 423.65,332.68 427.35,332.68" fill="#4a5062"/>
<circle cx="418.80" cy="334.90" r="1.75" fill="#a3152b"/>
<circle cx="422.50" cy="335.70" r="1.75" fill="#4a5062"/>
<circle cx="427.00" cy="333.40" r="1.67" fill="#fff" stroke="#2a4b85" stroke-width="0.75"/>
<polygon points="430.70,330.66 428.85,334.18 432.55,334.18" fill="#a3152b"/>
<rect x="432.43" y="328.93" width="3.15" height="3.15" fill="#fff" stroke="#5b2a5e" stroke-width="0.75"/>
<polygon points="415.80,331.66 413.95,335.18 417.65,335.18" fill="#5b2a5e"/>
<polygon points="399.50,346.34 397.65,342.82 401.35,342.82" fill="#5fa83a"/>
<circle cx="402.80" cy="344.30" r="1.75" fill="#5b2a5e"/>
<rect x="404.15" y="342.65" width="3.30" height="3.30" fill="#5fa83a"/>
<circle cx="408.80" cy="344.30" r="1.75" fill="#5fa83a"/>
<polygon points="411.80,342.26 409.95,345.78 413.65,345.78" fill="#5fa83a"/>
<rect x="413.15" y="342.65" width="3.30" height="3.30" fill="#a3152b"/>
<circle cx="417.80" cy="344.30" r="1.75" fill="#a3152b"/>
<rect x="419.15" y="342.65" width="3.30" height="3.30" fill="#5fa83a"/>
<circle cx="423.80" cy="344.30" r="1.67" fill="#fff" stroke="#2a4b85" stroke-width="0.75"/>
<circle cx="426.80" cy="344.30" r="1.67" fill="#fff" stroke="#2a4b85" stroke-width="0.75"/>
<circle cx="429.80" cy="344.30" r="1.67" fill="#fff" stroke="#5b2a5e" stroke-width="0.75"/>
<circle cx="432.80" cy="344.30" r="1.75" fill="#a3152b"/>
<polygon points="435.80,346.14 434.13,342.96 437.47,342.96" fill="#fff" stroke="#5fa83a" stroke-width="0.66" stroke-linejoin="round"/>
<circle cx="438.80" cy="344.30" r="1.75" fill="#5b2a5e"/>
<rect x="440.15" y="342.65" width="3.30" height="3.30" fill="#5b2a5e"/>
<circle cx="485.00" cy="227.10" r="1.75" fill="#4a5062"/>
<text x="490.00" y="229.80" font-family="Liberation Sans, sans-serif" fill="#1c1c1c" font-size="8.2" textLength="16.60" lengthAdjust="spacingAndGlyphs">UPN6</text>
<circle cx="473.10" cy="236.61" r="1.67" fill="#fff" stroke="#a3152b" stroke-width="0.75"/>
<path d="M473.10,234.93 A1.67,1.67 0 0 0 473.10,238.28Z" fill="#a3152b"/>
<circle cx="479.05" cy="236.61" r="1.67" fill="#fff" stroke="#a3152b" stroke-width="0.75"/>
<circle cx="485.00" cy="236.61" r="1.75" fill="#a3152b"/>
<text x="490.00" y="239.31" font-family="Liberation Sans, sans-serif" fill="#1c1c1c" font-size="8.2" textLength="20.75" lengthAdjust="spacingAndGlyphs">UPN17</text>
<circle cx="479.05" cy="246.12" r="1.67" fill="#fff" stroke="#5fa83a" stroke-width="0.75"/>
<circle cx="485.00" cy="246.12" r="1.75" fill="#5fa83a"/>
<text x="490.00" y="248.82" font-family="Liberation Sans, sans-serif" fill="#1c1c1c" font-size="8.2" textLength="20.75" lengthAdjust="spacingAndGlyphs">UPN23</text>
<circle cx="473.10" cy="255.63" r="1.67" fill="#fff" stroke="#2a4b85" stroke-width="0.75"/>
<path d="M473.10,253.95 A1.67,1.67 0 0 0 473.10,257.31Z" fill="#2a4b85"/>
<circle cx="479.05" cy="255.63" r="1.67" fill="#fff" stroke="#2a4b85" stroke-width="0.75"/>
<circle cx="485.00" cy="255.63" r="1.75" fill="#2a4b85"/>
<text x="490.00" y="258.33" font-family="Liberation Sans, sans-serif" fill="#1c1c1c" font-size="8.2" textLength="20.75" lengthAdjust="spacingAndGlyphs">UPN26</text>
<circle cx="479.05" cy="265.14" r="1.67" fill="#fff" stroke="#5b2a5e" stroke-width="0.75"/>
<circle cx="485.00" cy="265.14" r="1.75" fill="#5b2a5e"/>
<text x="490.00" y="267.84" font-family="Liberation Sans, sans-serif" fill="#1c1c1c" font-size="8.2" textLength="20.75" lengthAdjust="spacingAndGlyphs">UPN31</text>
<polygon points="485.00,272.61 483.15,276.13 486.85,276.13" fill="#a3152b"/>
<text x="490.00" y="277.35" font-family="Liberation Sans, sans-serif" fill="#1c1c1c" font-size="8.2" textLength="20.75" lengthAdjust="spacingAndGlyphs">UPN35</text>
<polygon points="485.00,282.12 483.15,285.64 486.85,285.64" fill="#2a4b85"/>
<text x="490.00" y="286.86" font-family="Liberation Sans, sans-serif" fill="#1c1c1c" font-size="8.2" textLength="20.75" lengthAdjust="spacingAndGlyphs">UPN39</text>
<polygon points="485.00,291.63 483.15,295.15 486.85,295.15" fill="#5b2a5e"/>
<text x="490.00" y="296.37" font-family="Liberation Sans, sans-serif" fill="#1c1c1c" font-size="8.2" textLength="20.75" lengthAdjust="spacingAndGlyphs">UPN48</text>
<polygon points="479.05,301.34 477.38,304.52 480.72,304.52" fill="#fff" stroke="#5fa83a" stroke-width="0.66" stroke-linejoin="round"/>
<polygon points="485.00,301.14 483.15,304.66 486.85,304.66" fill="#5fa83a"/>
<text x="490.00" y="305.88" font-family="Liberation Sans, sans-serif" fill="#1c1c1c" font-size="8.2" textLength="20.75" lengthAdjust="spacingAndGlyphs">UPN49</text>
<polygon points="485.00,314.73 483.15,311.21 486.85,311.21" fill="#a3152b"/>
<text x="490.00" y="315.39" font-family="Liberation Sans, sans-serif" fill="#1c1c1c" font-size="8.2" textLength="20.75" lengthAdjust="spacingAndGlyphs">UPN53</text>
<polygon points="485.00,324.24 483.15,320.72 486.85,320.72" fill="#2a4b85"/>
<text x="490.00" y="324.90" font-family="Liberation Sans, sans-serif" fill="#1c1c1c" font-size="8.2" textLength="20.75" lengthAdjust="spacingAndGlyphs">UPN54</text>
<polygon points="479.05,333.55 477.38,330.37 480.72,330.37" fill="#fff" stroke="#5fa83a" stroke-width="0.66" stroke-linejoin="round"/>
<polygon points="485.00,333.75 483.15,330.23 486.85,330.23" fill="#5fa83a"/>
<text x="490.00" y="334.41" font-family="Liberation Sans, sans-serif" fill="#1c1c1c" font-size="8.2" textLength="20.75" lengthAdjust="spacingAndGlyphs">UPN60</text>
<polygon points="473.10,343.06 471.43,339.88 474.77,339.88" fill="#fff" stroke="#5b2a5e" stroke-width="0.66" stroke-linejoin="round"/>
<polygon points="479.05,343.06 477.38,339.88 480.72,339.88" fill="#fff" stroke="#5b2a5e" stroke-width="0.66" stroke-linejoin="round"/>
<polygon points="485.00,343.26 483.15,339.74 486.85,339.74" fill="#5b2a5e"/>
<text x="490.00" y="343.92" font-family="Liberation Sans, sans-serif" fill="#1c1c1c" font-size="8.2" textLength="20.75" lengthAdjust="spacingAndGlyphs">UPN67</text>
<rect x="483.35" y="349.08" width="3.30" height="3.30" fill="#a3152b"/>
<text x="490.00" y="353.43" font-family="Liberation Sans, sans-serif" fill="#1c1c1c" font-size="8.2" textLength="20.75" lengthAdjust="spacingAndGlyphs">UPN69</text>
<rect x="471.53" y="358.67" width="3.15" height="3.15" fill="#fff" stroke="#5b2a5e" stroke-width="0.75"/>
<rect x="471.53" y="358.67" width="1.57" height="3.15" fill="#5b2a5e"/>
<rect x="477.48" y="358.67" width="3.15" height="3.15" fill="#fff" stroke="#5b2a5e" stroke-width="0.75"/>
<rect x="483.35" y="358.59" width="3.30" height="3.30" fill="#5b2a5e"/>
<text x="490.00" y="362.94" font-family="Liberation Sans, sans-serif" fill="#1c1c1c" font-size="8.2" textLength="20.75" lengthAdjust="spacingAndGlyphs">UPN72</text>
<rect x="477.48" y="368.18" width="3.15" height="3.15" fill="#fff" stroke="#5fa83a" stroke-width="0.75"/>
<rect x="483.35" y="368.10" width="3.30" height="3.30" fill="#5fa83a"/>
<text x="490.00" y="372.45" font-family="Liberation Sans, sans-serif" fill="#1c1c1c" font-size="8.2" textLength="20.75" lengthAdjust="spacingAndGlyphs">UPN76</text>
<rect x="477.48" y="377.69" width="3.15" height="3.15" fill="#fff" stroke="#2a4b85" stroke-width="0.75"/>
<rect x="483.35" y="377.61" width="3.30" height="3.30" fill="#2a4b85"/>
<text x="490.00" y="381.96" font-family="Liberation Sans, sans-serif" fill="#1c1c1c" font-size="8.2" textLength="20.75" lengthAdjust="spacingAndGlyphs">UPN79</text>
<rect x="0" y="0" width="520" height="1.2" fill="#111"/>
<rect x="0" y="0" width="1.8" height="404" fill="#474747"/>
<rect x="518.3" y="0" width="1.7" height="404" fill="#474747"/>
<rect x="0" y="402.2" width="520" height="1.8" fill="#444"/>
</svg>
</body></html>
